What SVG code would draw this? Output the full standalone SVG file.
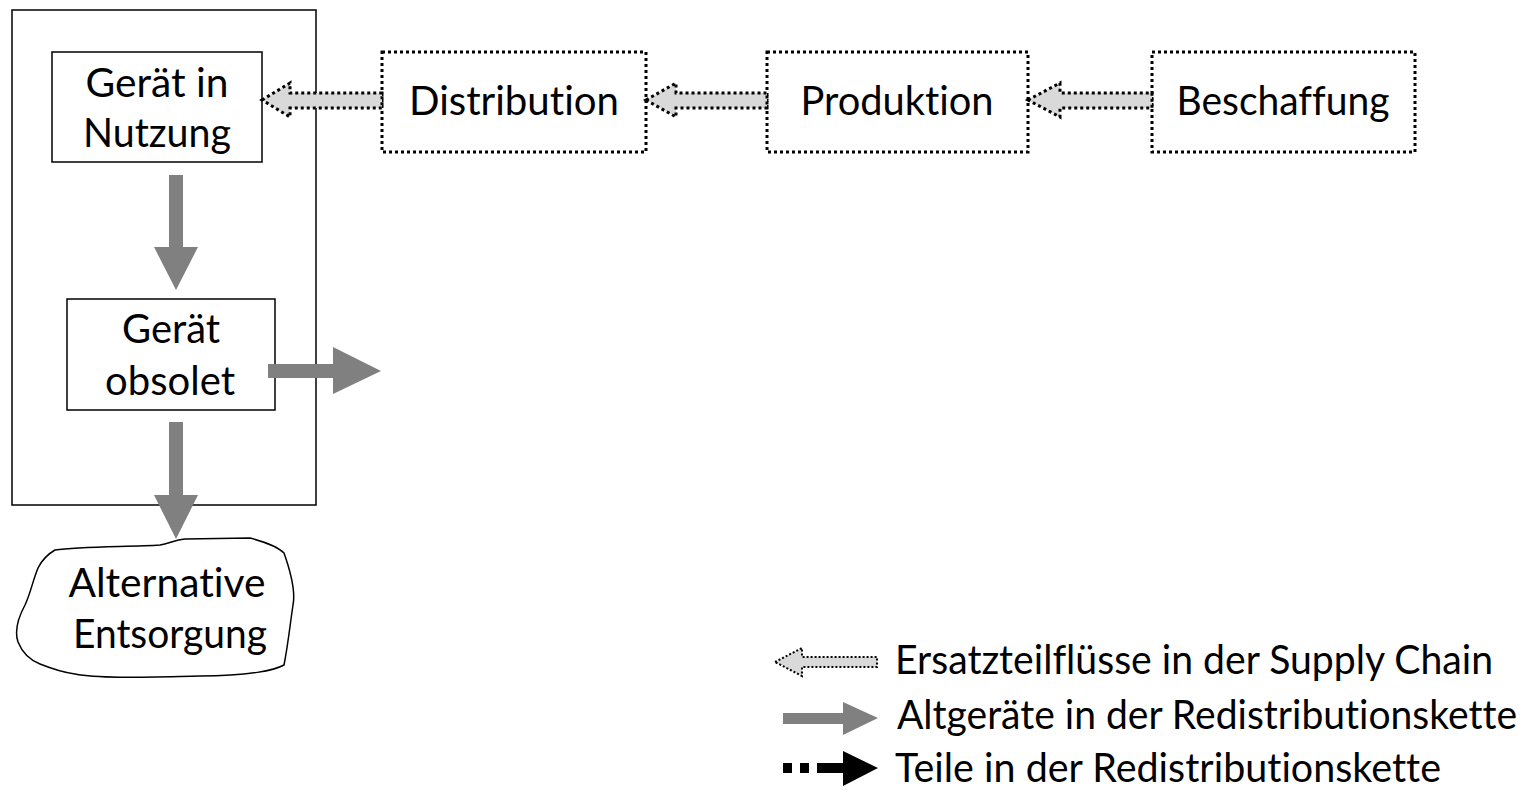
<svg xmlns="http://www.w3.org/2000/svg" width="1530" height="790" viewBox="0 0 1530 790">
  <style>
    .lbl { font-family: Lato, "Liberation Sans", sans-serif; font-size: 40px; fill: #000; font-variant-ligatures: none; font-feature-settings: "liga" 0, "clig" 0; }
    .box { fill: #fff; stroke: #000; stroke-width: 1.5; }
    .dotbox { fill: #fff; stroke: #000; stroke-width: 3; stroke-dasharray: 3 3; }
    .flow { fill: #d9d9d9; stroke: #000; stroke-width: 3; stroke-dasharray: 3 3; stroke-linejoin: miter; }
    .flow-sm { fill: #d9d9d9; stroke: #000; stroke-width: 2; stroke-dasharray: 2 2; }
    .gray { fill: #808080; }
    .black { fill: #000; }
  </style>

  <!-- lifecycle frame -->
  <rect id="frame" x="12" y="10" width="304" height="495" fill="none" stroke="#000" stroke-width="1.5"/>

  <g id="geraet-in-nutzung">
    <rect class="box" x="52" y="52" width="210" height="110"/>
    <text class="lbl" x="157" y="97" text-anchor="middle" textLength="143" lengthAdjust="spacingAndGlyphs">Gerät in</text>
    <text class="lbl" x="157" y="147" text-anchor="middle" textLength="148" lengthAdjust="spacingAndGlyphs">Nutzung</text>
  </g>

  <g id="geraet-obsolet">
    <rect class="box" x="67" y="299" width="208" height="111"/>
    <text class="lbl" x="171" y="343" text-anchor="middle" textLength="98" lengthAdjust="spacingAndGlyphs">Gerät</text>
    <text class="lbl" x="170" y="395" text-anchor="middle" textLength="130" lengthAdjust="spacingAndGlyphs">obsolet</text>
  </g>

  <g id="alternative-entsorgung">
    <path fill="#fff" stroke="#000" stroke-width="1.5" d="M 55,550 C 80,546 130,547 160,545 C 170,543 175,540 185,539 L 250,538 C 265,542 278,547 284,553 C 290,570 296,590 293,605 C 290,625 288,645 284,665 C 275,670 250,676 200,676 C 150,677 100,679 75,674 C 60,672 50,668 40,664 C 30,660 22,652 18,642 C 14,630 18,618 25,605 C 30,595 33,580 38,568 C 42,560 48,554 55,550 Z"/>
    <text class="lbl" x="167" y="597" text-anchor="middle" textLength="197" lengthAdjust="spacingAndGlyphs">Alternative</text>
    <text class="lbl" x="170" y="648" text-anchor="middle" textLength="194" lengthAdjust="spacingAndGlyphs">Entsorgung</text>
  </g>

  <g id="distribution">
    <rect class="dotbox" x="382" y="52" width="264" height="100"/>
    <text class="lbl" x="514" y="115" text-anchor="middle" textLength="210" lengthAdjust="spacingAndGlyphs">Distribution</text>
  </g>

  <g id="produktion">
    <rect class="dotbox" x="767" y="52" width="261" height="100"/>
    <text class="lbl" x="897" y="115" text-anchor="middle" textLength="193" lengthAdjust="spacingAndGlyphs">Produktion</text>
  </g>

  <g id="beschaffung">
    <rect class="dotbox" x="1152" y="52" width="263" height="100"/>
    <text class="lbl" x="1283" y="115" text-anchor="middle" textLength="213" lengthAdjust="spacingAndGlyphs">Beschaffung</text>
  </g>

  <g id="connectors">
    <!-- spare-part flows (dotted block arrows, pointing left) -->
    <path class="flow" d="M 262,100 L 290,83 L 290,93 L 382,93 L 382,108 L 290,108 L 290,117 Z"/>
    <path class="flow" d="M 646,100 L 676,83 L 676,93 L 767,93 L 767,108 L 676,108 L 676,117 Z"/>
    <path class="flow" d="M 1028,100 L 1060,83 L 1060,93 L 1152,93 L 1152,108 L 1060,108 L 1060,117 Z"/>
    <!-- used-device flows (solid gray block arrows) -->
    <path class="gray" d="M 169,175 L 183,175 L 183,247 L 198,247 L 176,290 L 154,247 L 169,247 Z"/>
    <path class="gray" d="M 268,364 L 333,364 L 333,347 L 381,371 L 333,394 L 333,378 L 268,378 Z"/>
    <path class="gray" d="M 169,422 L 183,422 L 183,495 L 198,495 L 176,539 L 154,495 L 169,495 Z"/>
  </g>

  <g id="legend">
    <path class="flow-sm" d="M 775,662 L 802,648 L 802,657 L 877,657 L 877,667 L 802,667 L 802,676 Z"/>
    <text class="lbl" x="895" y="674" textLength="598" lengthAdjust="spacingAndGlyphs">Ersatzteilflüsse in der Supply Chain</text>

    <path class="gray" d="M 783,713 L 843,713 L 843,702 L 878,718 L 843,735 L 843,724 L 783,724 Z"/>
    <text class="lbl" x="897" y="729" textLength="620" lengthAdjust="spacingAndGlyphs">Altgeräte in der Redistributionskette</text>

    <rect class="black" x="783" y="763" width="9" height="10"/>
    <rect class="black" x="800" y="763" width="9" height="10"/>
    <path class="black" d="M 817,763 L 843,763 L 843,751 L 878,768 L 843,786 L 843,773 L 817,773 Z"/>
    <text class="lbl" x="895" y="782" textLength="546" lengthAdjust="spacingAndGlyphs">Teile in der Redistributionskette</text>
  </g>
</svg>
